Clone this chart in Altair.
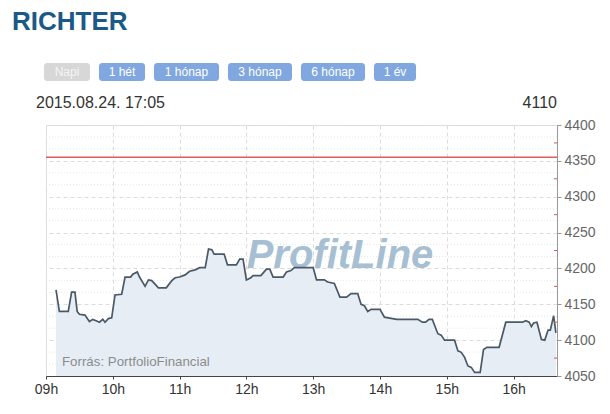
import altair as alt
import pandas as pd

# ---- data ----
title = "RICHTER"
stamp = "2015.08.24. 17:05"
last_price = "4110"
ref_price = 4355
buttons = ["Napi", "1 hét", "1 hónap", "3 hónap", "6 hónap", "1 év"]
source_note = "Forrás: PortfolioFinancial"
watermark = "ProfitLine"
hour_ticks = [0, 60, 120, 180, 240, 300, 360, 420]
y_ticks = [4050, 4100, 4150, 4200, 4250, 4300, 4350, 4400]
minor_ticks = [4075, 4125, 4175, 4225, 4275, 4325, 4375]

times = ["09:09", "09:12", "09:20", "09:23", "09:26", "09:28", "09:30", "09:35", "09:39", "09:42",
         "09:45", "09:48", "09:51", "09:53", "09:56", "09:59", "10:02", "10:08", "10:11", "10:16",
         "10:18", "10:22", "10:24", "10:29", "10:32", "10:35", "10:41", "10:48", "10:53", "10:56",
         "11:00", "11:05", "11:09", "11:14", "11:18", "11:23", "11:26", "11:29", "11:31", "11:40",
         "11:43", "11:51", "11:54", "11:57", "12:00", "12:04", "12:06", "12:13", "12:18", "12:21",
         "12:24", "12:33", "12:36", "12:40", "12:43", "13:00", "13:03", "13:10", "13:13", "13:19",
         "13:24", "13:30", "13:34", "13:40", "13:43", "13:46", "13:49", "13:52", "14:00", "14:04",
         "14:15", "14:34", "14:38", "14:41", "14:44", "14:47", "14:52", "14:55", "14:58", "15:07",
         "15:10", "15:13", "15:16", "15:19", "15:22", "15:25", "15:30", "15:33", "15:36", "15:47",
         "15:53", "16:08", "16:11", "16:14", "16:16", "16:18", "16:21", "16:25", "16:28", "16:31",
         "16:33", "16:36", "16:38"]
prices = [4170, 4140, 4140, 4167, 4167, 4140, 4136, 4135, 4126, 4129,
          4127, 4125, 4129, 4125, 4130, 4131, 4163, 4164, 4188, 4188,
          4192, 4195, 4188, 4175, 4184, 4183, 4173, 4173, 4183, 4187,
          4188, 4191, 4196, 4198, 4201, 4201, 4227, 4226, 4220, 4220,
          4205, 4205, 4213, 4213, 4184, 4187, 4190, 4190, 4199, 4199,
          4188, 4188, 4195, 4197, 4201, 4201, 4184, 4184, 4181, 4179,
          4160, 4160, 4165, 4165, 4150, 4148, 4140, 4143, 4143, 4132,
          4129, 4129, 4125, 4125, 4129, 4129, 4109, 4107, 4100, 4100,
          4085, 4083, 4076, 4064, 4062, 4055, 4055, 4087, 4090, 4090,
          4125, 4125, 4127, 4125, 4119, 4124, 4125, 4101, 4100, 4114,
          4114, 4134, 4110]


def to_min(s):
    h, m = s.split(":")
    return (int(h) - 9) * 60 + int(m)


df = pd.DataFrame({"t": [to_min(s) for s in times], "price": prices})
df_ref = pd.DataFrame({"v": [ref_price]})
df_minor = pd.DataFrame({"v": minor_ticks})
dotted_vals = [4400 - 50 / 3 * k for k in range(1, 21) if k % 3 != 0]
df_dotted = pd.DataFrame({"v": dotted_vals})
one = pd.DataFrame({"a": [0]})

FONT = "Liberation Sans"
W, H = 511, 251
xscale = alt.Scale(domain=[0, 459], nice=False, zero=False)
yscale = alt.Scale(domain=[4050, 4400], nice=False, zero=False)

x_axis = alt.Axis(
    values=hour_ticks,
    labelExpr="(datum.value < 60 ? '0' : '') + (floor(datum.value / 60) + 9) + 'h'",
    grid=True, gridDash=[4, 3], gridColor="#dcdcdc",
    domainColor="#444", tickColor="#444", tickSize=3,
    labelFontSize=14, labelColor="#333", labelPadding=3,
    labelFlush=False, labelOverlap=False, title=None,
)
y_axis = alt.Axis(
    orient="right", values=y_ticks, format="d",
    grid=True, gridDash=[4, 3], gridColor="#dcdcdc",
    domainColor="#999", tickColor="#999", tickSize=4,
    labelFontSize=14, labelColor="#666", labelPadding=3,
    labelFlush=False, labelOverlap=False, title=None,
)

X = alt.X("t:Q", scale=xscale, axis=x_axis)
Y = alt.Y("price:Q", scale=yscale, axis=y_axis)
YV = alt.Y("v:Q", scale=yscale, axis=y_axis)

dotted = alt.Chart(df_dotted).mark_rule(color="#e8e8e8", strokeDash=[1, 2]).encode(y=YV)

area = alt.Chart(df).mark_area(color="#e6edf5", opacity=1).encode(
    x=X, y=Y, y2=alt.datum(4050),
)

wm = alt.Chart(one).mark_text(
    text=watermark, font=FONT, fontSize=40, fontWeight="bold", fontStyle="italic",
    color="#a7bfd2", align="center", baseline="alphabetic",
).encode(x=alt.value(294), y=alt.value(143))

ref = alt.Chart(df_ref).mark_rule(color="#e05c5c", strokeWidth=1.3).encode(y=YV)

line = alt.Chart(df).mark_line(color="#4a5967", strokeWidth=1.7).encode(x=X, y=Y)

minor = alt.Chart(df_minor).mark_rule(color="#d9534f").encode(
    y=YV, x=alt.value(508), x2=alt.value(511),
)

note = alt.Chart(one).mark_text(
    text=source_note, font=FONT, fontSize=13.3, color="#8c8c8c", align="left", baseline="alphabetic"
).encode(x=alt.value(16), y=alt.value(241))

title_t = alt.Chart(one).mark_text(
    text=title, font=FONT, fontSize=26, fontWeight="bold", color="#1b5a86", align="left", baseline="alphabetic"
).encode(x=alt.value(-34), y=alt.value(-95))

stamp_t = alt.Chart(one).mark_text(
    text=stamp, font=FONT, fontSize=16, color="#333", align="left", baseline="alphabetic"
).encode(x=alt.value(-10), y=alt.value(-17))

last_t = alt.Chart(one).mark_text(
    text=last_price, font=FONT, fontSize=16, color="#333", align="right", baseline="alphabetic"
).encode(x=alt.value(511), y=alt.value(-17))

btn_x = [(44, 90), (99, 145), (154, 219), (228, 292), (301, 365), (374, 416)]
btn_layers = []
for i, (lab, (x0, x1)) in enumerate(zip(buttons, btn_x)):
    fill = "#d7d7d7" if i == 0 else "#80a7df"
    tcol = "#f4f4f4" if i == 0 else "#ffffff"
    btn_layers.append(
        alt.Chart(one).mark_rect(color=fill, cornerRadius=3).encode(
            x=alt.value(x0 - 46), x2=alt.value(x1 - 46), y=alt.value(-62), y2=alt.value(-44)
        )
    )
    btn_layers.append(
        alt.Chart(one).mark_text(
            text=lab, font=FONT, fontSize=12, color=tcol, align="center", baseline="middle"
        ).encode(x=alt.value((x0 + x1) / 2 - 46), y=alt.value(-53))
    )

chart = alt.layer(
    dotted, area, wm, ref, line, minor, note, title_t, stamp_t, last_t, *btn_layers
).properties(
    width=W, height=H,
    padding={"left": 38, "top": 117, "right": 45, "bottom": 30},
    autosize=alt.AutoSizeParams(type="none"),
    background="white",
).configure_view(stroke=None).configure(font=FONT)

chart.save("out.html", embed_options={"renderer": "svg", "actions": False})
